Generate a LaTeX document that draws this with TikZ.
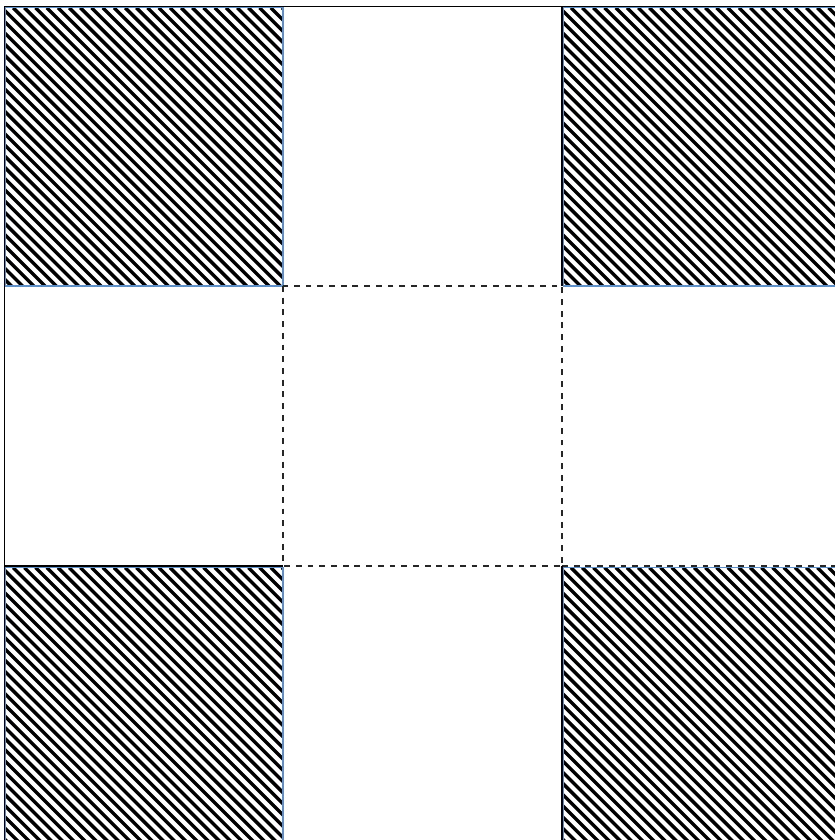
\documentclass[tikz,border=0pt]{standalone}
\definecolor{blueedge}{HTML}{5E8FC6}
\begin{document}
\begin{tikzpicture}[x=0.03cm,y=-0.03cm,
  gridline/.style={draw=black, line width=0.9pt},
  dashline/.style={draw=black!85, line width=0.9pt, dash pattern=on 5pt off 5pt},
  hatchline/.style={draw=black, line width=2.9pt},
  hatchedge/.style={draw=blueedge, line width=1.0pt}]
\useasboundingbox (0,0) rectangle (834,840);
\fill[white] (0,0) rectangle (834,840);
% hatched corner squares
\newcommand\hatchsquare[4]{%
  \begin{scope}
    \clip (#1,#2) rectangle (#3,#4);
    \foreach \i in {0,...,54}
      \draw[hatchline] ({#1-295+\i*11.2},#2) -- ++(420,420);
  \end{scope}
  \draw[hatchedge] (#1,#2) rectangle (#3,#4);}
\hatchsquare{5.8}{7.8}{283}{286}
\hatchsquare{563.6}{7.8}{841}{286}
\hatchsquare{5.8}{567.6}{283}{846}
\hatchsquare{563.6}{567.6}{841}{846}
% dashed centre square and its continuation
\draw[dashline] (283,286) rectangle (562,566);
\draw[dashline] (562,566) -- (841,566);
% solid black lines
\draw[draw=black, line width=1.0pt] (4.5,846) -- (4.5,6.5) -- (841,6.5);
\draw[gridline] (562,6.5) -- (562,286);
\draw[gridline] (562,566) -- (562,846);
\draw[gridline] (4.5,566) -- (283,566);
\end{tikzpicture}
\end{document}
